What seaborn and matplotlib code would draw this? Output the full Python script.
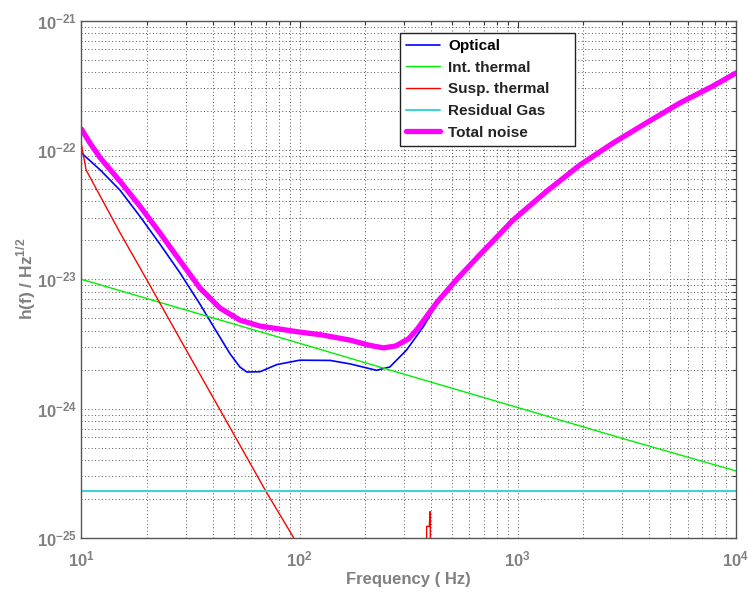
import math
import matplotlib
matplotlib.use("Agg")
import matplotlib.pyplot as plt
from matplotlib.ticker import FixedLocator, FuncFormatter, LogLocator, NullFormatter
import seaborn as sns
import pandas as pd

# Noise budget: strain amplitude spectral density per source
freq_optical = [10, 12.2, 15.0, 18.5, 22.9, 28.3, 34.9, 40.9, 48.0, 53.2, 57.3,
                65.8, 78.5, 100, 138, 170, 225, 259, 309, 369, 425, 525, 670,
                953, 1358, 1926, 2728, 3906, 5533, 7834, 10000]
h_optical = [9.48e-23, 7.0e-23, 4.9e-23, 3.08e-23, 1.87e-23, 1.12e-23, 6.44e-24,
             4.13e-24, 2.65e-24, 2.10e-24, 1.92e-24, 1.93e-24, 2.19e-24, 2.37e-24,
             2.36e-24, 2.22e-24, 1.98e-24, 2.1e-24, 2.84e-24, 4.31e-24, 6.4e-24,
             9.9e-24, 1.55e-23, 2.88e-23, 4.81e-23, 7.66e-23, 1.13e-22, 1.63e-22,
             2.31e-22, 3.12e-22, 3.94e-22]

freq_int = [10, 30, 100, 300, 1000, 3000, 10000]
h_int = [1.0e-23, 5.8e-24, 3.2e-24, 1.85e-24, 1.02e-24, 5.9e-25, 3.3e-25]

freq_susp = [10, 10.5, 15, 20, 30, 50, 70, 94, 120, 300, 381, 382, 393, 396,
             397, 398, 500]
h_susp = [1.1e-22, 7.0e-23, 2.3e-23, 9.8e-24, 2.9e-24, 6.3e-25, 2.3e-25, 1.0e-25,
          4.6e-26, 1.5e-27, 1.0e-27, 1.23e-25, 1.23e-25, 1.6e-25, 1.3e-25,
          1.0e-27, 6.0e-28]

freq_gas = [10, 10000]
h_gas = [2.3e-25, 2.3e-25]

freq_total = [10, 10.94, 12.2, 15.0, 18.5, 22.9, 28.3, 34.9, 43.1, 53.2, 65.8,
              100, 126, 170, 209, 242, 275, 316, 344, 425, 525, 670, 953, 1358,
              1926, 2728, 3906, 5533, 7834, 10000]
h_total = [1.45e-22, 1.13e-22, 8.67e-23, 5.75e-23, 3.69e-23, 2.28e-23, 1.39e-23,
           8.57e-24, 6.0e-24, 4.84e-24, 4.35e-24, 3.91e-24, 3.72e-24, 3.39e-24,
           3.09e-24, 2.95e-24, 3.05e-24, 3.47e-24, 4.07e-24, 6.61e-24, 1.0e-23,
           1.55e-23, 2.88e-23, 4.81e-23, 7.66e-23, 1.13e-22, 1.63e-22, 2.31e-22,
           3.12e-22, 3.94e-22]

series = [
    ("Optical", freq_optical, h_optical, "#0000ff", 1.2),
    ("Int. thermal", freq_int, h_int, "#00ee00", 1.0),
    ("Susp. thermal", freq_susp, h_susp, "#ff0000", 1.0),
    ("Residual Gas", freq_gas, h_gas, "#3fd3d3", 1.5),
    ("Total noise", freq_total, h_total, "#ff00ff", 3.8),
]

sns.set_style("white")
plt.rcParams["font.family"] = ["Liberation Sans", "DejaVu Sans"]
plt.rcParams["mathtext.fontset"] = "custom"
plt.rcParams["mathtext.rm"] = "Liberation Sans"
plt.rcParams["mathtext.bf"] = "Liberation Sans:bold"

fig = plt.figure(figsize=(7.49, 5.94), dpi=100)
ax = fig.add_axes([0.1088, 0.0943, 0.8738, 0.8709])

for name, f, h, col, lw in series:
    df = pd.DataFrame({"Frequency": f, "h": h})
    sns.lineplot(data=df, x="Frequency", y="h", ax=ax, color=col, linewidth=lw,
                 label=name, estimator=None, sort=False)

ax.set_xscale("log")
ax.set_yscale("log")
ax.set_xlim(10, 1e4)
ax.set_ylim(1e-25, 1e-21)

grey = "#808080"
ax.xaxis.set_major_locator(FixedLocator([1e1, 1e2, 1e3, 1e4]))
ax.yaxis.set_major_locator(FixedLocator([1e-25, 1e-24, 1e-23, 1e-22, 1e-21]))
ax.xaxis.set_minor_locator(LogLocator(base=10, subs=range(2, 10), numticks=20))
ax.yaxis.set_minor_locator(LogLocator(base=10, subs=range(2, 10), numticks=20))
ax.xaxis.set_minor_formatter(NullFormatter())
ax.yaxis.set_minor_formatter(NullFormatter())

pow_fmt = FuncFormatter(lambda v, p: r"$\mathbf{10^{%d}}$" % round(math.log10(v)))
ax.xaxis.set_major_formatter(pow_fmt)
ax.yaxis.set_major_formatter(pow_fmt)

ax.tick_params(which="both", direction="in", top=True, right=True,
               colors="#333333", labelcolor=grey, labelsize=12)
ax.tick_params(which="major", length=5, width=0.8)
ax.tick_params(which="minor", length=3, width=0.8)
ax.tick_params(axis="x", pad=8)
ax.tick_params(axis="y", pad=3)

ax.grid(True, which="both", linestyle=(0, (1, 2.5)), color="#555555", linewidth=0.7)
for s in ax.spines.values():
    s.set_color("#555555")
    s.set_linewidth(1.0)

ax.set_xlabel("Frequency ( Hz)", color=grey, fontsize=12, fontweight="bold")
ax.set_ylabel(r"h(f) / Hz$^{\mathbf{1/2}}$", color=grey, fontsize=12.5,
              fontweight="bold")
ax.xaxis.set_label_coords(0.5, -0.066)
ax.yaxis.set_label_coords(-0.066, 0.5)

leg = ax.legend(loc="upper left", bbox_to_anchor=(0.4866, 0.976, 0.2674, 0.0),
                mode="expand", borderaxespad=0,
                frameon=True, fancybox=False, framealpha=1, edgecolor="#222222",
                fontsize=11, handlelength=2.2, handletextpad=0.55,
                labelspacing=0.5, borderpad=0.4)
leg.get_frame().set_linewidth(1.0)
for i, t in enumerate(leg.get_texts()):
    t.set_fontweight("bold")
    t.set_color("#000000" if i == 0 else "#222222")

fig.savefig("out.png", dpi=100, facecolor="white")
